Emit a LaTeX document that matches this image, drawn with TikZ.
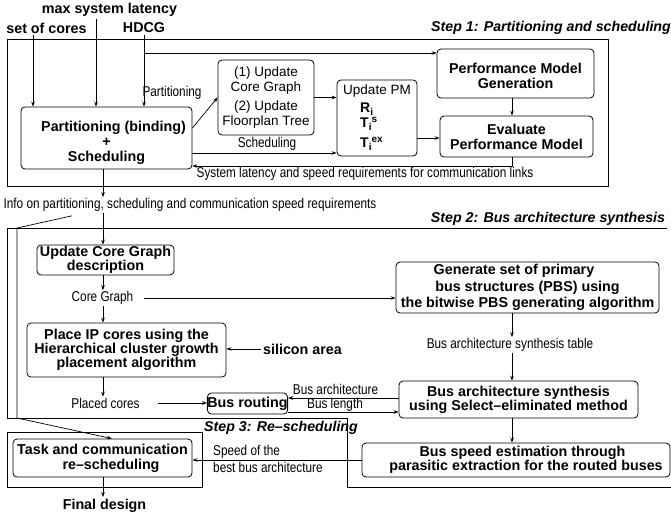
\documentclass[tikz,border=0pt]{standalone}
\usepackage{fontspec}
\setmainfont{Liberation Sans}
\newfontfamily\narrowsans[FakeStretch=0.83]{Liberation Sans}
\usetikzlibrary{arrows.meta,calc}

% small lowered / raised indices for the performance model terms
\newcommand\lowidx[1]{\raisebox{-3pt}{\fontsize{10}{10}\selectfont #1}}
\newcommand\highidx[1]{\raisebox{5pt}{\fontsize{10}{10}\selectfont #1}}

\begin{document}
\begin{tikzpicture}[x=1pt,y=-1pt,
  every node/.style={inner sep=0pt},
  box/.style={draw, rounded corners=4pt, line width=0.8pt, align=center},
  bft/.style={font=\bfseries\fontsize{14.3}{15}\selectfont},
  rgt/.style={font=\fontsize{13.5}{15}\selectfont},
  lbl/.style={font=\narrowsans\fontsize{14.2}{16}\selectfont, inner sep=1pt},
  toplbl/.style={font=\bfseries\fontsize{14.3}{16}\selectfont, inner sep=2pt},
  stepttl/.style={font=\bfseries\itshape\fontsize{14.2}{16}\selectfont},
  arr/.style={-{Stealth[length=5pt,width=3.6pt]}, line width=0.7pt},
  stepframe/.style={line width=0.9pt}]

\useasboundingbox (0,0) rectangle (671,519);

% ---------- inputs ----------
\node[toplbl] (maxlat) at (109.5,10) {max system latency};
\node[toplbl] (cores) at (46.5,28) {set of cores};
\node[toplbl] (hdcg) at (144,28) {HDCG};
\node[stepttl] (step1) at (551,28) {Step 1: Partitioning and scheduling};

% ---------- step 1 ----------
\draw[stepframe] (7,39) rectangle (608,186);

\node[box, bft, minimum width=171pt, minimum height=62pt] (part) at (106.5,138)
  {\rule{0pt}{20.5pt}\hspace*{14pt}Partitioning (binding)\\+\\Scheduling};
\node[box, rgt, minimum width=96pt, minimum height=75pt] (upd) at (266,97.5)
  {(1) Update\\Core Graph\\[4pt](2) Update\\Floorplan Tree};
\node[box, rgt, align=left, minimum width=80pt, minimum height=76pt] (pm) at (377,118)
  {Update PM\\[3pt]
   \hspace*{17pt}{\bfseries\fontsize{14}{15}\selectfont R\lowidx{i}}\\
   \hspace*{17pt}{\bfseries\fontsize{14}{15}\selectfont T\lowidx{i}\highidx{s}}\\[5pt]
   \hspace*{17pt}{\bfseries\fontsize{14}{15}\selectfont T\lowidx{i}\highidx{ex}}};
\node[box, bft, minimum width=157pt, minimum height=49pt] (pmg) at (515.5,73.5)
  {\rule{0pt}{16pt}Performance Model\\Generation};
\node[box, bft, minimum width=153pt, minimum height=41pt] (eval) at (516.5,136.5)
  {Evaluate\\Performance Model};

\node[lbl] (lblpart) at (172,93) {Partitioning};
\node[lbl] (lblsched) at (267,144) {Scheduling};
\node[lbl] (lblsys) at (365,174) {System latency and speed requirements for communication links};

\coordinate (spine) at (103,0);
\coordinate (rspine) at (512,0);

\draw[arr] ([xshift=-13.5pt]cores.south) -- ([xshift=-13.5pt]cores.south |- part.north);
\draw[arr] ([xshift=-13.5pt]maxlat.south) -- ([xshift=-13.5pt]maxlat.south |- part.north);
\draw[arr] (hdcg.south) -- (hdcg.south |- part.north);
\coordinate (hbrA) at ([yshift=20.5pt]pmg.west);
\draw[arr] (hbrA -| hdcg.south) -- (hbrA);

\draw[arr] ([yshift=10pt]part.east) -- (upd.west);
\coordinate (schA) at ([yshift=-15pt]part.east);
\draw[arr] (schA) -- (schA -| pm.west);
\draw[arr] (upd.east) -- (upd.east -| pm.west);
\coordinate (pmA) at ([yshift=-20pt]pm.east);
\draw[arr] (pmA) -- (pmA -| eval.west);
\draw[arr] (rspine |- pmg.south) -- (rspine |- eval.north);
\coordinate (fbA) at ([yshift=-28pt]part.east);
\draw[arr] (rspine |- eval.south) |- (fbA);

% ---------- hand-over to step 2 ----------
\node[lbl] (info) at (190,205) {Info on partitioning, scheduling and communication speed requirements};
\draw[arr] (spine |- part.south) -- (spine |- info.north);

% ---------- step 2 ----------
\node[stepttl] (step2) at (548,219) {Step 2: Bus architecture synthesis};
\draw[stepframe] (667,228) -- (7,228) -- (7,418) -- (347,418) -- (347,487) -- (671,487);

\node[box, bft, minimum width=137pt, minimum height=30pt, font=\bfseries\fontsize{14.3}{13}\selectfont] (ucg) at (105.5,260)
  {Update Core Graph\\description};
\node[lbl] (cg) at (102.5,298) {Core Graph};
\node[box, bft, minimum width=199pt, minimum height=54pt, font=\bfseries\fontsize{14.3}{14}\selectfont] (place) at (126.5,350)
  {Place IP cores using the\\Hierarchical cluster growth\\placement algorithm};
\node[toplbl] (silicon) at (302.5,349) {silicon area};
\node[lbl] (pc) at (105.5,403) {Placed cores};
\node[box, bft, minimum width=79pt, minimum height=21pt] (br) at (247.5,403.5) {Bus routing};

\node[box, bft, minimum width=263pt, minimum height=51pt, font=\bfseries\fontsize{14.3}{16.5}\selectfont] (gen) at (527.5,287.5)
  {Generate set of primary\hspace*{27pt}\\bus structures (PBS) using\hspace*{25pt}\\the bitwise PBS generating algorithm};
\node[lbl] (bast) at (510,345) {Bus architecture synthesis table};
\node[box, bft, minimum width=239pt, minimum height=37pt, font=\bfseries\fontsize{14.3}{14}\selectfont] (bas) at (518.5,399.5)
  {Bus architecture synthesis\\using Select–eliminated method};
\node[lbl, inner sep=0pt] (lblba) at (335.5,389.5) {Bus architecture};
\node[lbl, inner sep=0pt] (lblbl) at (335,404.5) {Bus length};

\node[box, bft, minimum width=308pt, minimum height=34pt, font=\bfseries\fontsize{14.3}{14}\selectfont] (bs) at (516,460)
  {\hspace*{13pt}Bus speed estimation through\\\hspace*{20pt}parasitic extraction for the routed buses};

\draw[arr] (spine |- info.south) -- (spine |- ucg.north);
\draw[arr] (spine |- ucg.south) -- (spine |- cg.north);
\draw[arr] (spine |- cg.south) -- (spine |- place.north);
\coordinate (cgA) at ([xshift=10pt]cg.east);
\draw[arr] (cgA) -- (cgA -| gen.west);
\draw[arr] (rspine |- gen.south) -- (rspine |- bast.north);
\draw[arr] (rspine |- bast.south) -- (rspine |- bas.north);
\draw[arr] (rspine |- bas.south) -- (rspine |- bs.north);
\draw[arr] (silicon.west) -- (silicon.west -| place.east);
\draw[arr] (spine |- place.south) -- (spine |- pc.north);
\coordinate (pcA) at ([xshift=17pt]pc.east);
\draw[arr] (pcA) -- (pcA -| br.west);
\coordinate (baA) at ([yshift=1.5pt]bas.west);
\draw[arr] (baA) -- (baA -| br.east);
\coordinate (blA) at ([yshift=-8.5pt]br.east);
\draw[arr] (blA) -- (blA -| bas.west);

% ---------- step 3 ----------
\node[stepttl] (step3) at (281,428) {Step 3: Re–scheduling};
\draw[stepframe] (7,432) rectangle (202,487);
\node[box, bft, minimum width=179pt, minimum height=38pt] (task) at (102.5,458)
  {Task and communication\\\hspace*{17pt}re–scheduling};
\node[lbl, align=left, anchor=west, font=\narrowsans\fontsize{14.2}{17}\selectfont] (lblspeed) at (212,458.5)
  {Speed of the\\best bus architecture};
\node[toplbl] (final) at (104.5,506) {Final design};

\draw[arr] (bs.west) -- (bs.west -| task.east);
\draw[arr] (spine |- task.south) -- (spine |- final.north);

\coordinate (k1) at (17,228);
\coordinate (k2) at (17,418);
\draw[arr] ([xshift=-118pt,yshift=-3pt]info.south) -- (k1) -- (k2) -- ([xshift=9.5pt]task.north);

\end{tikzpicture}
\end{document}
